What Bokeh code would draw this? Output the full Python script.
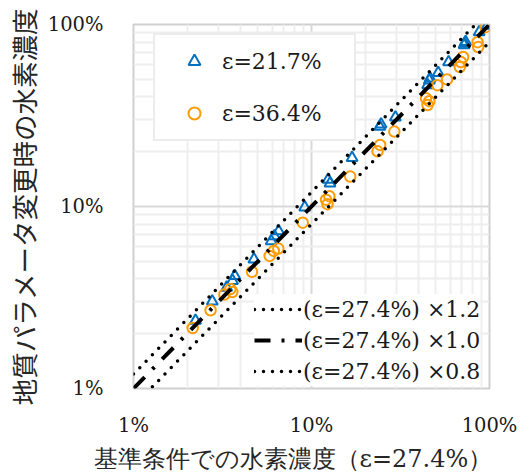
from bokeh.plotting import figure
from bokeh.models import FixedTicker, CustomJSTickFormatter, Legend, LegendItem, Title
from bokeh.embed import file_html
from bokeh.resources import INLINE

# ---- data (percent) ----
blue_x = [2.23, 2.77, 3.34, 3.60, 3.71, 4.75, 5.94, 6.19, 6.54, 9.16, 12.4, 12.7, 16.9,
          24.2, 24.6, 29.6, 44.9, 45.9, 46.4, 51.5, 58.9, 72.5, 73.4, 72.0, 87.5, 97.2]
blue_y = [2.36, 3.01, 3.59, 3.91, 4.16, 5.13, 6.46, 6.88, 7.33, 9.91, 14.05, 13.4, 18.5,
          27.5, 28.3, 30.9, 46.4, 49.4, 50.6, 54.2, 62.2, 78.5, 80.2, 77.0, 90.8, 98.8]
orange_x = [2.15, 2.71, 3.24, 3.59, 3.50, 4.63, 5.82, 6.14, 6.51, 8.93, 12.07, 12.3, 12.6,
            16.5, 23.5, 24.3, 29.2, 44.0, 44.9, 45.9, 50.9, 57.7, 68.1, 69.0, 71.1, 85.7,
            86.4, 95.1]
orange_y = [2.15, 2.69, 3.28, 3.39, 3.52, 4.38, 5.35, 5.70, 5.87, 8.15, 10.9, 10.3, 11.4,
            14.6, 20.1, 21.8, 25.8, 39.3, 36.1, 37.9, 46.4, 49.9, 58.4, 62.2, 66.3, 80.0,
            75.2, 96.7]
series_labels = ["ε=21.7%", "ε=36.4%"]

ref_x = [1, 100]
ratios = [1.2, 1.0, 0.8]
ratio_labels = ["(ε=27.4%) ×1.2", "(ε=27.4%) ×1.0", "(ε=27.4%) ×0.8"]

major_ticks = [1, 10, 100]
minor_ticks = [2, 3, 4, 5, 6, 7, 8, 9, 20, 30, 40, 50, 60, 70, 80, 90]

x_title = "基準条件での水素濃度（ε=27.4%）"
y_title = "地質パラメータ変更時の水素濃度"

BLUE = "#0070C0"
ORANGE = "#FF9B05"
SERIF = "'DejaVu Serif', serif"

p = figure(width=523, height=475, x_axis_type="log", y_axis_type="log",
           x_range=(1, 100), y_range=(1, 100),
           output_backend="svg", toolbar_location=None,
           min_border_left=121, min_border_right=34, min_border_top=24, min_border_bottom=85)

p.background_fill_color = "white"
p.border_fill_color = "white"
p.outline_line_color = "#D0D0D0"
p.outline_line_width = 2

for ax in (p.xaxis[0], p.yaxis[0]):
    ax.ticker = FixedTicker(ticks=major_ticks, minor_ticks=minor_ticks)
    ax.formatter = CustomJSTickFormatter(code="return tick + '%';")
    ax.major_tick_line_color = None
    ax.minor_tick_line_color = None
    ax.axis_line_color = None
    ax.major_label_text_font = SERIF
    ax.major_label_text_font_size = "19.5px"
    ax.major_label_text_color = "#1a1a1a"

p.xaxis.major_label_standoff = 19
p.yaxis.major_label_standoff = 24

p.yaxis.axis_label = y_title
p.yaxis.axis_label_standoff = 2
p.yaxis.axis_label_text_font = "'Noto Sans CJK JP', sans-serif"
p.yaxis.axis_label_text_font_size = "26.5px"
p.yaxis.axis_label_text_font_style = "normal"
p.yaxis.axis_label_text_color = "#262626"

p.add_layout(Title(text=x_title, align="left", offset=-40, standoff=6,
                   text_font=SERIF, text_font_size="24px", text_font_style="normal",
                   text_color="#262626"), "below")

for g in (p.xgrid[0], p.ygrid[0]):
    g.grid_line_color = "#D9D9D9"
    g.grid_line_width = 2
    g.minor_grid_line_color = "#EEEEEE"
    g.minor_grid_line_width = 2

tri = p.scatter(blue_x, blue_y, marker="triangle", size=11, fill_color=None,
                line_color=BLUE, line_width=2)
circ = p.scatter(orange_x, orange_y, marker="circle", size=10.5, fill_color=None,
                 line_color=ORANGE, line_width=2)

dashes = ["0 9", "16 11 3 11", "0 9"]
caps = ["round", "butt", "round"]
widths = [3.5, 4, 3.5]
line_items = []
for k, lab, d, c, w in zip(ratios, ratio_labels, dashes, caps, widths):
    r = p.line(ref_x, [k * v for v in ref_x], line_color="black", line_width=w,
               line_dash=d, line_cap=c)
    line_items.append(LegendItem(label=lab, renderers=[r]))

leg1 = Legend(items=[LegendItem(label=series_labels[0], renderers=[tri]),
                     LegendItem(label=series_labels[1], renderers=[circ])],
              location=(20, 247), padding=11, margin=0, spacing=22,
              glyph_width=56, glyph_height=30, label_height=30, label_width=121,
              label_standoff=-12,
              label_text_font=SERIF, label_text_font_size="22px",
              label_text_color="#1a1a1a",
              border_line_color="#D9D9D9", border_line_width=2,
              background_fill_color="white", background_fill_alpha=1)
p.add_layout(leg1)

leg2 = Legend(items=line_items, location=(121, 2), padding=3, margin=0, spacing=1,
              glyph_width=48, glyph_height=30, label_height=30, label_standoff=1,
              label_text_font=SERIF, label_text_font_size="22px",
              label_text_color="#1a1a1a",
              border_line_color=None,
              background_fill_color="white", background_fill_alpha=1)
p.add_layout(leg2)

open("out.html", "w").write(file_html(p, INLINE))
